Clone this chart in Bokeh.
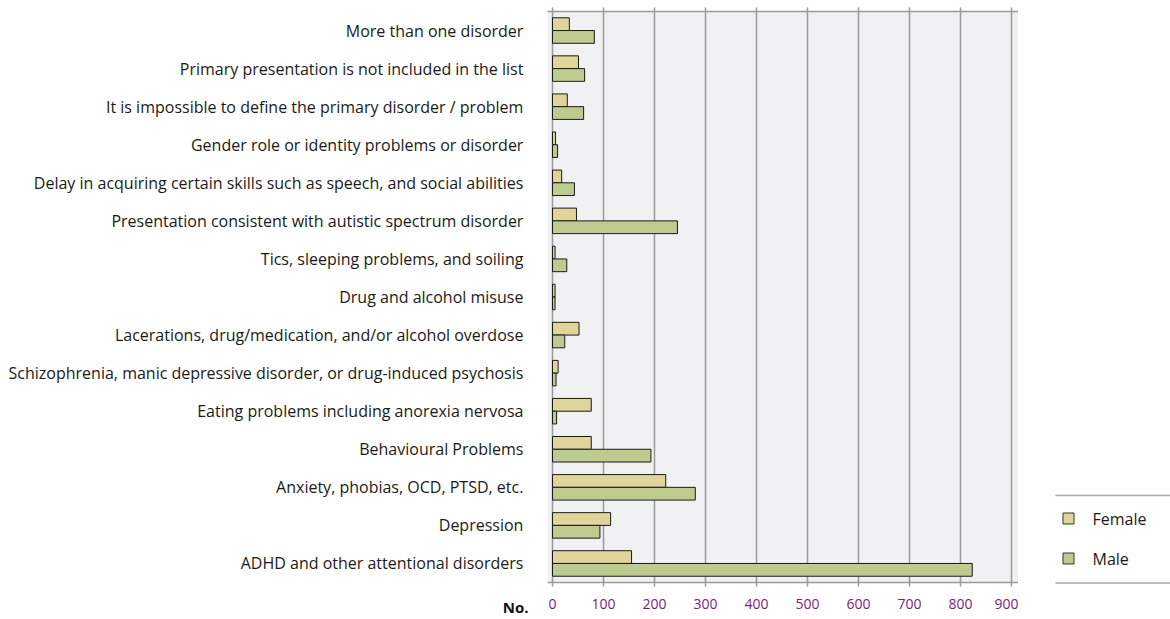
from bokeh.plotting import figure
from bokeh.layouts import row
from bokeh.models import (Range1d, LinearAxis, Label, FixedTicker,
                          ColumnDataSource, BoxAnnotation)
from bokeh.core.properties import value
from bokeh.transform import dodge
from bokeh.embed import file_html
from bokeh.resources import INLINE

categories = [
    "More than one disorder",
    "Primary presentation is not included in the list",
    "It is impossible to define the primary disorder / problem",
    "Gender role or identity problems or disorder",
    "Delay in acquiring certain skills such as speech, and social abilities",
    "Presentation consistent with autistic spectrum disorder",
    "Tics, sleeping problems, and soiling",
    "Drug and alcohol misuse",
    "Lacerations, drug/medication, and/or alcohol overdose",
    "Schizophrenia, manic depressive disorder, or drug-induced psychosis",
    "Eating problems including anorexia nervosa",
    "Behavioural Problems",
    "Anxiety, phobias, OCD, PTSD, etc.",
    "Depression",
    "ADHD and other attentional disorders",
]
female = [33, 51, 29, 6, 18, 47, 5, 5, 52, 11, 76, 76, 222, 114, 155]
male = [82, 63, 61, 10, 43, 245, 28, 5, 24, 7, 8, 193, 280, 93, 823]
series = ["Female", "Male"]
x_ticks = [0, 100, 200, 300, 400, 500, 600, 700, 800, 900]
x_title = "No."

FONT = "Open Sans"
F_COL = "#dfd59a"
M_COL = "#bdcb8f"
GRID = "#9a9a9a"
H = 615          # canvas height
TOP = 11         # frame top (px)
W = 1018         # main canvas width
ZERO_PX = 552    # pixel of value 0
PX_PER = 459 / 900.0
BAND = 571 / 15.0

n = len(categories)
pos = [n - 1 - i for i in range(n)]          # top category highest
y_top = n - 0.5
y_bot = y_top - (H - TOP) / BAND
x_lo = -ZERO_PX / PX_PER
x_hi = (W - ZERO_PX) / PX_PER
x_edge = -10

src = ColumnDataSource(dict(cat=categories, pos=pos, female=female, male=male))

p = figure(width=W, height=H, output_backend="svg", toolbar_location=None,
           x_range=Range1d(x_lo, x_hi), y_range=Range1d(y_bot, y_top),
           x_axis_location=None, y_axis_location=None,
           min_border_left=0, min_border_right=0, min_border_top=TOP,
           min_border_bottom=0)
p.outline_line_color = None
p.background_fill_color = "white"
p.border_fill_color = "white"
p.xgrid.grid_line_color = None
p.ygrid.grid_line_color = None

p.add_layout(BoxAnnotation(left=x_edge, right=x_hi, bottom=-0.5, top=y_top,
                           fill_color="#f0f1f3", fill_alpha=1,
                           line_color=None, level="underlay"))

# vertical grid lines at the x ticks
p.segment(x0=x_ticks, x1=x_ticks, y0=[-0.5] * len(x_ticks),
          y1=[y_top] * len(x_ticks), line_color=GRID, line_width=1.5)

p.hbar(y=dodge("pos", 0.1675), right="female", left=0,
       height=0.335, source=src, fill_color=F_COL, line_color="#1a1a1a",
       line_width=1)
p.hbar(y=dodge("pos", -0.1675), right="male", left=0,
       height=0.335, source=src, fill_color=M_COL, line_color="#1a1a1a",
       line_width=1)

ticker = FixedTicker(ticks=x_ticks)
bottom = LinearAxis(ticker=ticker, fixed_location=-0.5, bounds=(x_edge, x_hi))
bottom.axis_line_color = GRID
bottom.axis_line_width = 1.5
bottom.major_tick_line_color = GRID
bottom.major_tick_line_width = 1.5
bottom.major_tick_in = 2
bottom.major_tick_out = 4
bottom.minor_tick_line_color = None
bottom.major_label_standoff = 12
bottom.major_label_text_color = "#7e1a7e"
bottom.major_label_text_font = FONT
bottom.major_label_text_font_size = "14px"
p.add_layout(bottom, "below")

top = LinearAxis(ticker=ticker, bounds=(x_edge, x_hi))
top.axis_line_color = GRID
top.axis_line_width = 1.5
top.major_tick_line_color = GRID
top.major_tick_line_width = 1.5
top.major_tick_in = 0
top.major_tick_out = 4
top.minor_tick_line_color = None
top.major_label_standoff = 0
top.major_label_text_font_size = "0px"
top.major_label_text_color = None
p.add_layout(top, "above")

ya = LinearAxis(ticker=FixedTicker(ticks=pos), fixed_location=x_edge,
                major_label_overrides={k: c for k, c in zip(pos, categories)})
ya.axis_line_color = None
ya.major_tick_line_color = None
ya.minor_tick_line_color = None
ya.major_tick_out = 0
ya.major_tick_in = 0
ya.major_label_standoff = 24
ya.major_label_text_font = FONT
ya.major_label_text_font_size = "16px"
ya.major_label_text_color = "#1a1a1a"
p.add_layout(ya, "left")

p.add_layout(Label(x=-47, y=y_top - (606 - TOP) / BAND, text=x_title,
                   text_font=FONT, text_font_size="15px",
                   text_font_style="bold", text_color="#111111",
                   text_align="right", text_baseline="middle"))

# legend panel (frame aligned with main frame: y value = page pixel)
QW = 1170 - W
q = figure(width=QW, height=H, output_backend="svg", toolbar_location=None,
           x_range=Range1d(0, QW), y_range=Range1d(H, TOP),
           min_border_left=0, min_border_right=0, min_border_top=TOP,
           min_border_bottom=0, x_axis_location=None, y_axis_location=None)
q.outline_line_color = None
q.xgrid.grid_line_color = None
q.ygrid.grid_line_color = None
q.segment(x0=[37, 37], x1=[QW, QW], y0=[495, 582.5], y1=[495, 582.5],
          line_color="#a8a8a8", line_width=1.5)
leg_src = ColumnDataSource(dict(x=[50, 50], y=[518, 558], tx=[74, 74],
                                label=series, color=[F_COL, M_COL]))
q.scatter(x="x", y="y", source=leg_src, marker="square", size=11,
          fill_color="color", line_color="#333333", line_width=1)
q.text(x="tx", y="y", text="label", source=leg_src, text_font=value(FONT),
       text_font_size="16px", text_baseline="middle", text_color="#1a1a1a")

layout = row(p, q, spacing=0)
open("out.html", "w").write(file_html(layout, INLINE))
